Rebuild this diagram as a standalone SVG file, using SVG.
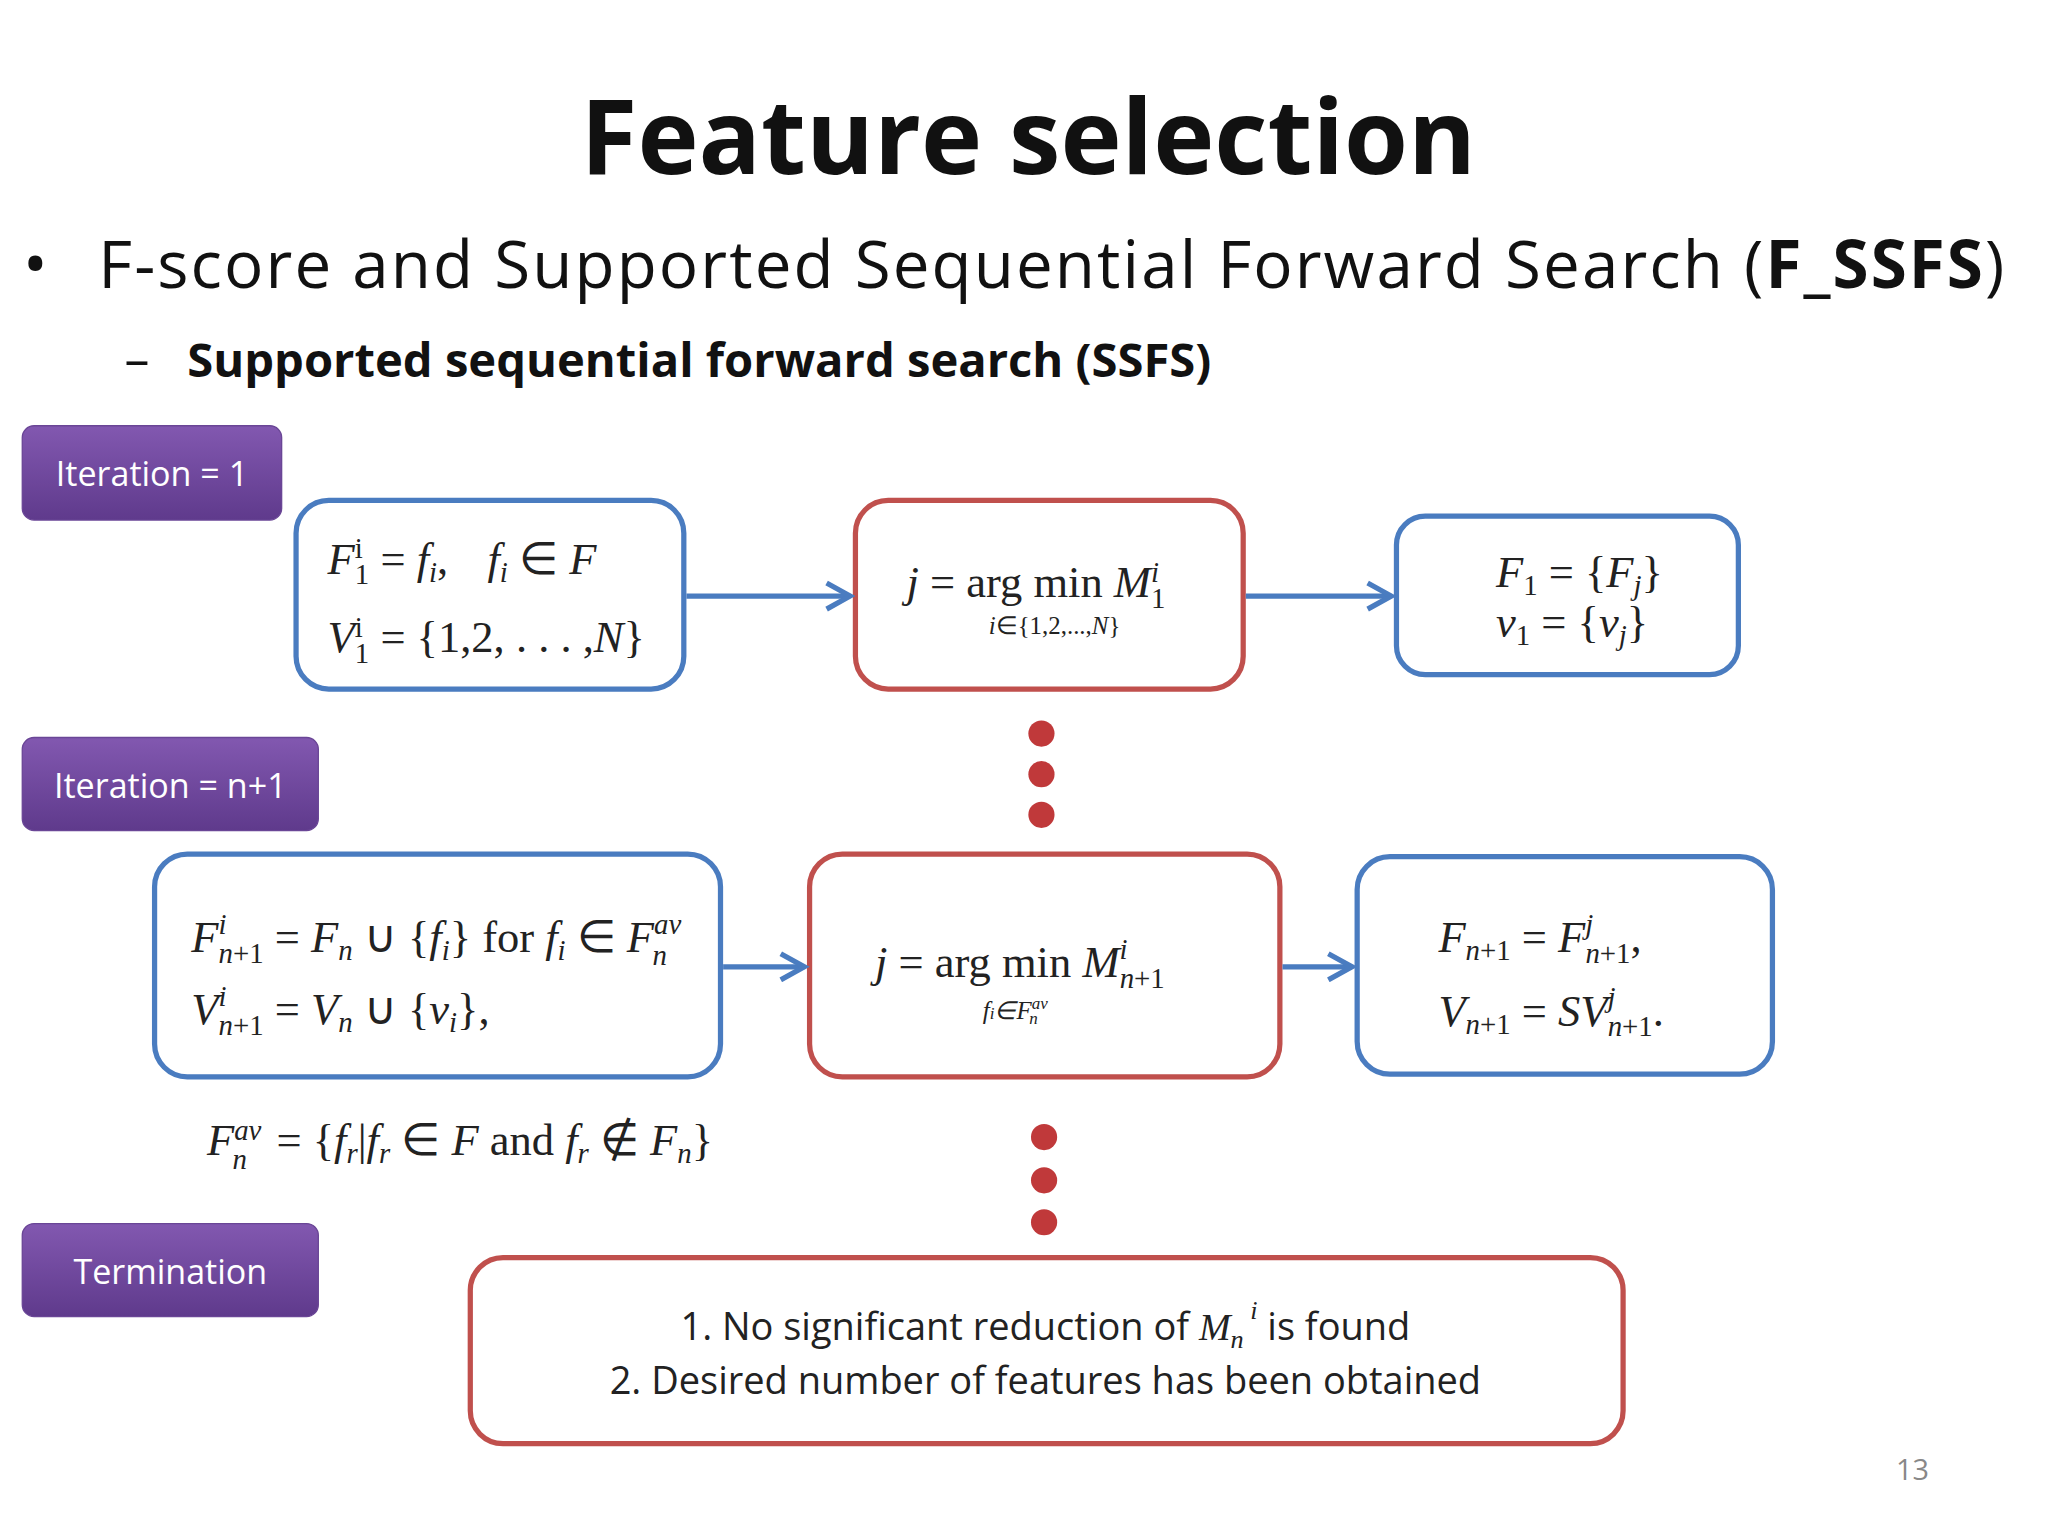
<svg xmlns="http://www.w3.org/2000/svg" width="2048" height="1536" viewBox="0 0 2048 1536">
<defs>
<linearGradient id="pg" x1="0" y1="0" x2="0" y2="1"><stop offset="0" stop-color="#8258b0"/><stop offset="1" stop-color="#5f3a8c"/></linearGradient>
<marker id="ar" viewBox="0 0 12 12" refX="10" refY="6" markerWidth="6" markerHeight="6" orient="auto" markerUnits="strokeWidth"><path d="M1,1 L10,6 L1,11" fill="none" stroke="#4a7cc0" stroke-width="2"/></marker>
</defs>
<style>
.pb{fill:url(#pg);stroke:#6a4696;stroke-width:1}
.pt{font-family:"Open Sans","Noto Sans",sans-serif;font-size:26px;fill:#fff}
.bb{fill:#fff;stroke:#4a7cc0;stroke-width:4}
.rb{fill:#fff;stroke:#c0504d;stroke-width:4}
.m{font-family:"Liberation Serif",serif;font-size:34px;fill:#222}
.i{font-style:italic}
.s{font-size:22px}
.c{stroke:#4a7cc0;stroke-width:4;fill:none}
.d{fill:#c0393a}
</style>
<rect width="2048" height="1536" fill="#fff"/>
<g transform="scale(1.31)">
<g id="title">
<text x="785" y="133" text-anchor="middle" font-family="Open Sans,Noto Sans,sans-serif" font-weight="bold" font-size="79" fill="#111">Feature selection</text>
<text x="18" y="218" font-family="Noto Sans,sans-serif" font-size="48" fill="#111">•</text>
<text x="75" y="220" font-family="Open Sans,Noto Sans,sans-serif" font-size="50" fill="#111" textLength="1455" lengthAdjust="spacing">F-score and Supported Sequential Forward Search (<tspan font-weight="bold">F_SSFS</tspan>)</text>
<text x="95" y="288" font-family="Open Sans,Noto Sans,sans-serif" font-size="38" fill="#111">–</text>
<text x="143" y="288" font-family="Open Sans,Noto Sans,sans-serif" font-weight="bold" font-size="36" fill="#111">Supported sequential forward search (SSFS)</text>
</g>
<g id="iter1"><rect class="pb" x="17" y="325" width="198" height="72" rx="9"/><text class="pt" x="116" y="371" text-anchor="middle">Iteration = 1</text></g>
<g id="itern"><rect class="pb" x="17" y="563" width="226" height="71" rx="9"/><text class="pt" x="130" y="609" text-anchor="middle">Iteration = n+1</text></g>
<g id="term"><rect class="pb" x="17" y="934" width="226" height="71" rx="9"/><text class="pt" x="130" y="980" text-anchor="middle">Termination</text></g>
<g id="b1"><rect class="bb" x="226" y="382" width="296" height="144" rx="25"/>
<text class="m" x="250" y="438"><tspan class="i">F</tspan><tspan class="s" dy="-12">i</tspan><tspan class="s" dx="-6" dy="20">1</tspan><tspan dy="-8"> = </tspan><tspan class="i">f</tspan><tspan class="s i" dy="6">i</tspan><tspan dy="-6">,</tspan><tspan class="i" dx="30">f</tspan><tspan class="s i" dy="6">i</tspan><tspan dy="-6"> ∈ </tspan><tspan class="i">F</tspan></text>
<text class="m" x="250" y="498"><tspan class="i">V</tspan><tspan class="s" dy="-12">i</tspan><tspan class="s" dx="-6" dy="20">1</tspan><tspan dy="-8"> = {1,2, . . . ,</tspan><tspan class="i">N</tspan>}</text></g>
<g id="r1"><rect class="rb" x="653" y="382" width="296" height="144" rx="25"/>
<text class="m" x="692" y="456"><tspan class="i">j</tspan> = arg min <tspan class="i">M</tspan><tspan class="s i" dy="-12">i</tspan><tspan class="s" dx="-6" dy="20">1</tspan></text>
<text x="805" y="484" text-anchor="middle" style="font-family:'Liberation Serif',serif;font-size:19px;fill:#222"><tspan class="i">i</tspan>∈{1,2,...,<tspan class="i">N</tspan>}</text></g>
<g id="o1"><rect class="bb" x="1066" y="394" width="261" height="121" rx="22"/>
<text class="m" x="1142" y="448"><tspan class="i">F</tspan><tspan class="s" dy="6">1</tspan><tspan dy="-6"> = {</tspan><tspan class="i">F</tspan><tspan class="s i" dy="6">j</tspan><tspan dy="-6">}</tspan></text>
<text class="m" x="1142" y="486"><tspan class="i">v</tspan><tspan class="s" dy="6">1</tspan><tspan dy="-6"> = {</tspan><tspan class="i">v</tspan><tspan class="s i" dy="6">j</tspan><tspan dy="-6">}</tspan></text></g>
<g id="b2"><rect class="bb" x="118" y="652" width="432" height="170" rx="25"/>
<text class="m" x="146" y="727"><tspan class="i">F</tspan><tspan class="s i" dy="-14">i</tspan><tspan class="s" dx="-6" dy="22"><tspan class="i">n</tspan>+1</tspan><tspan dy="-8"> = </tspan><tspan class="i">F</tspan><tspan class="s i" dy="6">n</tspan><tspan dy="-6"> ∪ {</tspan><tspan class="i">f</tspan><tspan class="s i" dy="6">i</tspan><tspan dy="-6">} for </tspan><tspan class="i">f</tspan><tspan class="s i" dy="6">i</tspan><tspan dy="-6"> ∈ </tspan><tspan class="i">F</tspan><tspan class="s i" dy="-14">av</tspan><tspan class="s i" dx="-22" dy="24">n</tspan></text>
<text class="m" x="146" y="782"><tspan class="i">V</tspan><tspan class="s i" dy="-14">i</tspan><tspan class="s" dx="-6" dy="22"><tspan class="i">n</tspan>+1</tspan><tspan dy="-8"> = </tspan><tspan class="i">V</tspan><tspan class="s i" dy="6">n</tspan><tspan dy="-6"> ∪ {</tspan><tspan class="i">v</tspan><tspan class="s i" dy="6">i</tspan><tspan dy="-6">},</tspan></text></g>
<g id="r2"><rect class="rb" x="618" y="652" width="359" height="170" rx="25"/>
<text class="m" x="668" y="746"><tspan class="i">j</tspan> = arg min <tspan class="i">M</tspan><tspan class="s i" dy="-14">i</tspan><tspan class="s" dx="-6" dy="22"><tspan class="i">n</tspan>+1</tspan></text>
<text x="775" y="778" text-anchor="middle" style="font-family:'Liberation Serif',serif;font-size:19px;font-style:italic;fill:#222">f<tspan style="font-size:13px">i</tspan>∈F<tspan style="font-size:13px" dy="-8">av</tspan><tspan style="font-size:13px" dx="-14" dy="12">n</tspan></text></g>
<g id="o2"><rect class="bb" x="1036" y="654" width="317" height="166" rx="25"/>
<text class="m" x="1098" y="727"><tspan class="i">F</tspan><tspan class="s" dy="6"><tspan class="i">n</tspan>+1</tspan><tspan dy="-6"> = </tspan><tspan class="i">F</tspan><tspan class="s i" dy="-14">j</tspan><tspan class="s" dx="-6" dy="22"><tspan class="i">n</tspan>+1</tspan><tspan dy="-8">,</tspan></text>
<text class="m" x="1098" y="783"><tspan class="i">V</tspan><tspan class="s" dy="6"><tspan class="i">n</tspan>+1</tspan><tspan dy="-6"> = </tspan><tspan class="i">SV</tspan><tspan class="s i" dy="-14">j</tspan><tspan class="s" dx="-6" dy="22"><tspan class="i">n</tspan>+1</tspan><tspan dy="-8">.</tspan></text></g>
<g id="fav"><text class="m" x="158" y="882"><tspan class="i">F</tspan><tspan class="s i" dy="-12">av</tspan><tspan class="s i" dx="-22" dy="22">n</tspan><tspan dy="-10" dx="14"> = {</tspan><tspan class="i">f</tspan><tspan class="s i" dy="6">r</tspan><tspan dy="-6">|</tspan><tspan class="i">f</tspan><tspan class="s i" dy="6">r</tspan><tspan dy="-6"> ∈ </tspan><tspan class="i">F</tspan> and <tspan class="i">f</tspan><tspan class="s i" dy="6">r</tspan><tspan dy="-6"> ∉ </tspan><tspan class="i">F</tspan><tspan class="s i" dy="6">n</tspan><tspan dy="-6">}</tspan></text></g>
<g id="tbox"><rect class="rb" x="359" y="960" width="880" height="142" rx="25"/>
<text x="798" y="1023" text-anchor="middle" font-family="Open Sans,Noto Sans,sans-serif" font-size="29" fill="#222">1. No significant reduction of <tspan font-family="Liberation Serif,serif" font-style="italic">M</tspan><tspan font-family="Liberation Serif,serif" font-style="italic" font-size="20" dy="6">n</tspan><tspan font-family="Liberation Serif,serif" font-style="italic" font-size="20" dy="-22"> i</tspan><tspan dy="16"> is found</tspan></text>
<text x="798" y="1064" text-anchor="middle" font-family="Open Sans,Noto Sans,sans-serif" font-size="29" fill="#222">2. Desired number of features has been obtained</text></g>
<g id="dots"><circle class="d" cx="795" cy="560" r="10"/><circle class="d" cx="795" cy="591" r="10"/><circle class="d" cx="795" cy="622" r="10"/><circle class="d" cx="797" cy="868" r="10"/><circle class="d" cx="797" cy="901" r="10"/><circle class="d" cx="797" cy="933" r="10"/></g>
<g id="connectors">
<line class="c" x1="524" y1="455" x2="649" y2="455" marker-end="url(#ar)"/>
<line class="c" x1="951" y1="455" x2="1062" y2="455" marker-end="url(#ar)"/>
<line class="c" x1="552" y1="738" x2="614" y2="738" marker-end="url(#ar)"/>
<line class="c" x1="979" y1="738" x2="1032" y2="738" marker-end="url(#ar)"/>
</g>
<text x="1460" y="1130" text-anchor="middle" font-family="Open Sans,sans-serif" font-size="22" fill="#888">13</text>
</g>
</svg>
